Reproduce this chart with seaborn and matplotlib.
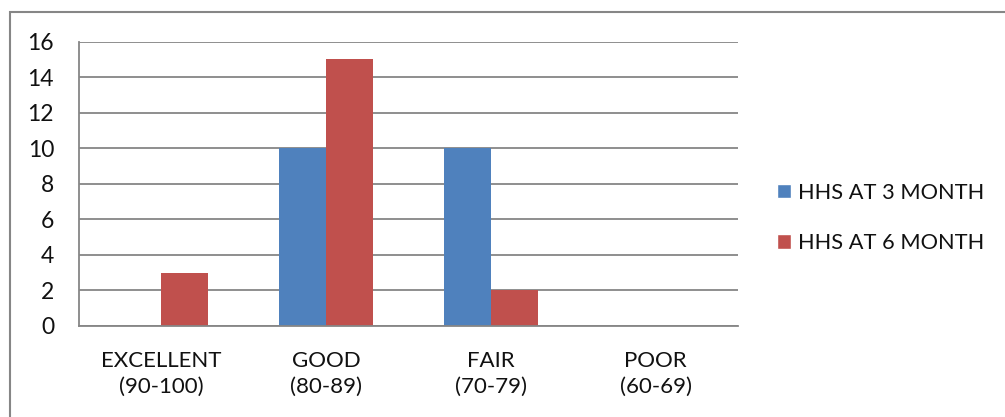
import matplotlib
matplotlib.use("Agg")
import matplotlib.pyplot as plt
import seaborn as sns
import pandas as pd
from matplotlib.patches import Rectangle, Patch

categories = ["EXCELLENT\n(90-100)", "GOOD\n(80-89)", "FAIR\n(70-79)", "POOR\n(60-69)"]
series_names = ["HHS AT 3 MONTH", "HHS AT 6 MONTH"]
hhs_3_month = [0, 10, 10, 0]
hhs_6_month = [3, 15, 2, 0]
y_ticks = [0, 2, 4, 6, 8, 10, 12, 14, 16]
colors = ["#4F81BD", "#C0504D"]

rows = []
for c, v in zip(categories, hhs_3_month):
    rows.append({"cat": c, "series": series_names[0], "val": v})
for c, v in zip(categories, hhs_6_month):
    rows.append({"cat": c, "series": series_names[1], "val": v})
df = pd.DataFrame(rows)

sns.set_style("white")
plt.rcParams["font.family"] = ["Lato", "DejaVu Sans"]

fig = plt.figure(figsize=(10.05, 4.17), dpi=100)
ax = fig.add_axes([79/1005, 1-326/417, (738-79)/1005, (326-41.5)/417])

sns.barplot(data=df, x="cat", y="val", hue="series", order=categories,
            hue_order=series_names, palette=colors, width=0.57, gap=0,
            saturation=1, ax=ax, legend=False, errorbar=None, edgecolor="none")

grid_c = "#868686"
ax.set_ylim(0, 16)
ax.set_xlim(-0.5, 3.5)
ax.set_yticks(y_ticks)
ax.yaxis.grid(True, color=grid_c, linewidth=1.3)
ax.set_axisbelow(True)
for s in ["top", "right"]:
    ax.spines[s].set_visible(False)
for s in ["left", "bottom"]:
    ax.spines[s].set_color(grid_c)
    ax.spines[s].set_linewidth(1.3)
ax.set_xlabel("")
ax.set_ylabel("")
ax.tick_params(axis="y", length=8, width=1.3, color=grid_c, labelsize=16.5, pad=10,
               labelcolor="#111111")
ax.tick_params(axis="x", which="major", length=0, labelsize=16, pad=18,
               labelcolor="#111111")
ax.set_xticks([-0.5, 0.5, 1.5, 2.5, 3.5], minor=True)
ax.tick_params(axis="x", which="minor", length=8, width=1.3, color=grid_c)
for lbl in ax.get_xticklabels():
    lbl.set_linespacing(1.35)

handles = [Patch(facecolor=colors[0], label=series_names[0]),
           Patch(facecolor=colors[1], label=series_names[1])]
leg = fig.legend(handles=handles, loc="center left", bbox_to_anchor=(757/1005, 1-218/417),
                 frameon=False, fontsize=15.7, handlelength=0.65, handleheight=0.65,
                 handletextpad=0.35, labelspacing=1.4)
for t in leg.get_texts():
    t.set_color("#111111")

fig.patches.append(Rectangle((10/1005, -0.1), 1.2, 1-12/417+0.1, transform=fig.transFigure,
                             fill=False, edgecolor=grid_c, linewidth=1.5))

fig.savefig("out.png", dpi=100)
